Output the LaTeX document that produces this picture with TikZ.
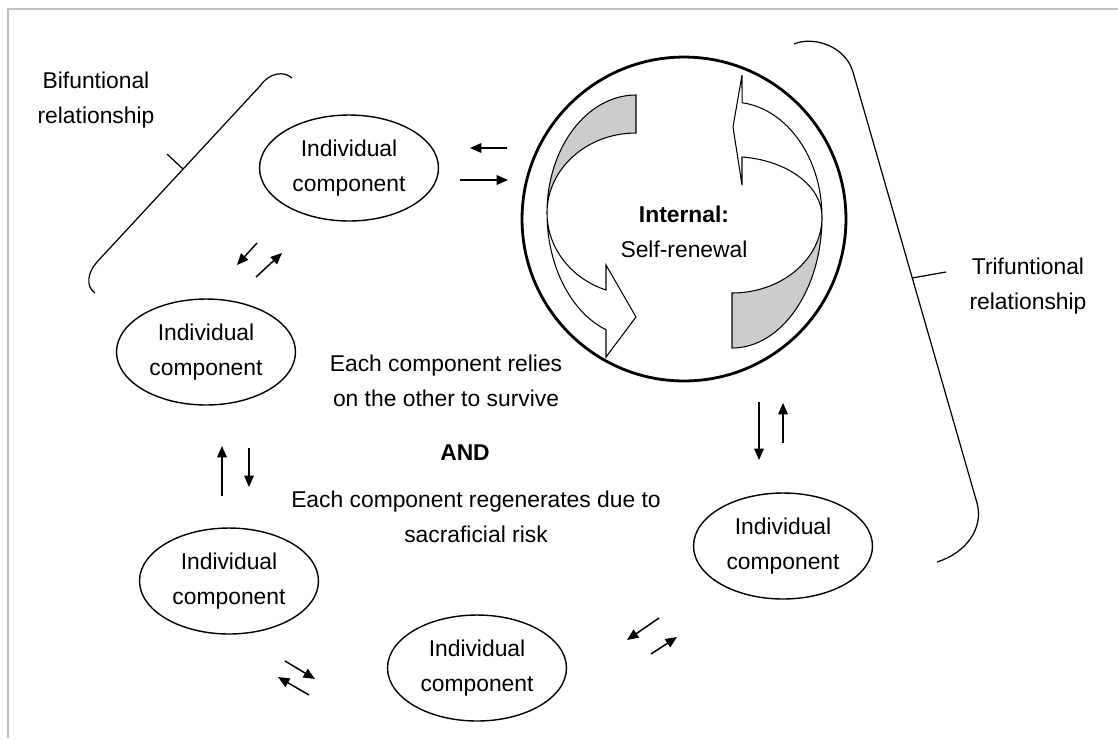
\documentclass[tikz,border=0pt]{standalone}
\usepackage{fontspec}
\setmainfont{Liberation Sans}
\usetikzlibrary{shapes.geometric,arrows.meta}
\definecolor{bandgray}{RGB}{204,204,204}
\definecolor{framegray}{RGB}{192,192,192}

\begin{document}
\begin{tikzpicture}[x=0.02cm,y=-0.02cm,
	every node/.style={font=\fontsize{13}{19.8}\selectfont,align=center},
	comp/.style={ellipse,draw,line width=0.8pt,minimum width=3.58cm,minimum height=2.12cm,inner sep=0pt},
	small/.style={-{Triangle[length=6.5pt,width=5.5pt]},line width=0.85pt},
	band/.style={draw,line width=0.6pt,line join=miter},
	bracket/.style={line width=0.7pt}]

\useasboundingbox (0,0) rectangle (1118,738);
% frame
\draw[framegray,line width=1pt] (8,738) -- (8,9) -- (1118,9);

% core circle
\node[circle,draw,line width=1.6pt,minimum size=6.48cm,inner sep=0pt] (core) at (684,219) {};
% left curved arrow
\draw[band,fill=bandgray] (636,95) arc[start angle=-90,end angle=-180,x radius=89,y radius=118]
		arc[start angle=180,end angle=270,x radius=89,y radius=80] -- cycle;
\draw[band,fill=white] (547,213) arc[start angle=180,end angle=109.7,x radius=89,y radius=124]
		-- (606,357) -- (636,317) -- (606,265) -- (606,290)
		arc[start angle=109.7,end angle=180,x radius=89,y radius=82] -- cycle;
% right curved arrow
\draw[band,fill=white] (822,217) arc[start angle=0,end angle=-83.6,x radius=90,y radius=115]
		-- (742,75) -- (733,127) -- (742,185) -- (742,157)
		arc[start angle=-83.6,end angle=0,x radius=90,y radius=60] -- cycle;
\draw[band,fill=bandgray] (822,217) arc[start angle=0,end angle=90,x radius=90,y radius=131]
		-- (732,293) arc[start angle=90,end angle=0,x radius=90,y radius=76] -- cycle;
\node (corelabel) at (684,232) {\textbf{Internal:}\\Self-renewal};

% components
\node[comp] (top) at (349,168) {Individual\\component};
\node[comp] (midleft) at (206,352) {Individual\\component};
\node[comp] (botleft) at (229,581) {Individual\\component};
\node[comp] (botmid) at (477,668) {Individual\\component};
\node[comp] (botright) at (783,546) {Individual\\component};

% brackets
\draw[bracket] (292,78) .. controls (284,71) and (270,72) .. (260,86) -- (97,262)
		.. controls (88,272) and (85,286) .. (95,293);
\draw[bracket] (183,169) -- (167,154);
\draw[bracket] (794,44) .. controls (812,36) and (845,45) .. (853,72) -- (977,503)
		.. controls (984,528) and (966,553) .. (937,562);
\draw[bracket] (912,278) -- (946,272);
\node (bilabel) at (96,100) {Bifuntional\\relationship};
\node (trilabel) at (1028,286) {Trifuntional\\relationship};

% texts
\node (relies) at (446,381) {Each component relies\\on the other to survive};
\node (and) at (465,453) {\textbf{AND}};
\node (regen) at (476,517) {Each component regenerates due to\\sacraficial risk};

% exchange arrows
\draw[small] (507,148) -- (470,148);
\draw[small] (460,180) -- (508,180);
\draw[small] (257,243) -- (237,265);
\draw[small] (256,277) -- (282,253);
\draw[small] (222,496) -- (222,446);
\draw[small] (249,448) -- (249,487);
\draw[small] (285,661) -- (315,679);
\draw[small] (309,695) -- (278,677);
\draw[small] (659,618) -- (627,640);
\draw[small] (651,654) -- (677,637);
\draw[small] (759,402) -- (759,460);
\draw[small] (783,443) -- (783,403);

\end{tikzpicture}
\end{document}
